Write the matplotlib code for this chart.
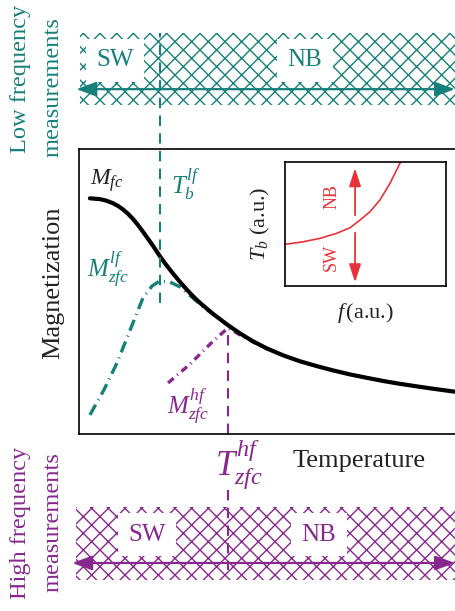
import numpy as np
import matplotlib
matplotlib.use("Agg")
import matplotlib.pyplot as plt
from matplotlib.patches import Rectangle

plt.rcParams['font.family'] = ['Liberation Serif', 'DejaVu Serif']
plt.rcParams['mathtext.fontset'] = 'custom'
plt.rcParams['mathtext.rm'] = 'Liberation Serif'
plt.rcParams['mathtext.it'] = 'Liberation Serif:italic'
plt.rcParams['hatch.linewidth'] = 1.0

TEAL = '#17807b'
PURPLE = '#87288f'
RED = '#e8323a'

# field-cooled magnetization vs temperature (a.u.)
t_fc = [0.29, 0.56, 0.72, 0.90, 1.04, 1.17, 1.30, 1.44, 1.57, 1.70, 1.84,
        1.97, 2.15, 2.31, 2.50, 2.69, 2.87, 3.05, 3.22, 3.56, 3.94, 4.28,
        4.63, 5.00, 5.43, 5.88, 6.33, 6.76, 7.21, 7.66, 8.09, 8.54, 8.99,
        9.41, 10.13]
m_fc = [8.27, 8.24, 8.19, 8.10, 8.00, 7.88, 7.73, 7.54, 7.33, 7.10, 6.84,
        6.60, 6.24, 5.95, 5.63, 5.33, 5.06, 4.81, 4.60, 4.22, 3.84, 3.53,
        3.25, 3.00, 2.76, 2.55, 2.38, 2.23, 2.09, 1.97, 1.86, 1.76, 1.67,
        1.59, 1.46]

# zero-field-cooled, low frequency
t_zfc_lf = [0.29, 0.66, 1.01, 1.36, 1.70, 1.94, 2.15, 2.42, 2.69, 3.03, 3.35, 3.60]
m_zfc_lf = [0.67, 1.54, 2.49, 3.65, 4.77, 5.19, 5.37, 5.33, 5.16, 4.77, 4.40, 4.18]

# zero-field-cooled, high frequency
t_zfc_hf = [2.37, 2.95, 3.56, 3.96, 4.28, 4.63, 5.00]
m_zfc_hf = [1.79, 2.45, 3.25, 3.72, 3.48, 3.23, 2.98]

tb_lf = 2.15
tb_hf = 3.96

# inset: blocking temperature vs frequency
f_inset = [0.0, 0.114, 0.217, 0.321, 0.404, 0.466, 0.528, 0.590, 0.652, 0.719]
tb_inset = [0.336, 0.357, 0.384, 0.425, 0.470, 0.532, 0.599, 0.694, 0.828, 1.003]

fig = plt.figure(figsize=(4.55, 6.11), dpi=100)

# --- main panel ---
ax = fig.add_axes([79/455, 1 - 434/611, 1 - 79/455, 285/611])
ax.set_xlim(0, 10)
ax.set_ylim(0, 10)
ax.set_xticks([])
ax.set_yticks([])
ax.spines['right'].set_visible(False)
for s in ['left', 'top', 'bottom']:
    ax.spines[s].set_linewidth(1.2)

ax.plot(t_zfc_lf, m_zfc_lf, color=TEAL, lw=2.4, dashes=(3.5, 1.6, 0.3, 1.6))
ax.plot(t_zfc_hf, m_zfc_hf, color=PURPLE, lw=2.4, dashes=(2.2, 1.4, 0.3, 1.4))
ax.plot(t_fc, m_fc, color='black', lw=3.0, solid_capstyle='round',
        solid_joinstyle='round')

ax.plot([tb_lf, tb_lf], [4.6, 14.07], color=TEAL, lw=1.5, dashes=(5, 3.5), clip_on=False)
ax.plot([tb_hf, tb_hf], [0, 3.72], color=PURPLE, lw=1.5, dashes=(5, 3.5), clip_on=False)
ax.plot([tb_hf, tb_hf], [-1.96, -4.77], color=PURPLE, lw=1.5, dashes=(5, 3.5), clip_on=False)

ax.text(0.29, 8.9, r'$M_{fc}$', fontsize=17, color='#222222', va='center', ha='left')
ax.text(2.45, 8.75, r'$T_b^{lf}$', fontsize=18, color=TEAL, va='center', ha='left')
ax.text(0.22, 5.75, r'$M_{zfc}^{lf}$', fontsize=18, color=TEAL, va='center', ha='left')
ax.text(2.35, 0.95, r'$M_{zfc}^{hf}$', fontsize=18, color=PURPLE, va='center', ha='left')
ax.text(3.62, -1.05, r'$T_{zfc}^{hf}$', fontsize=25, color=PURPLE, va='center', ha='left',
        clip_on=False)
ax.text(7.45, -0.95, 'Temperature', fontsize=19, color='#222222', ha='center', va='center',
        clip_on=False)
fig.text(53/455, 1 - 283/611, 'Magnetization', fontsize=19, rotation=90,
         ha='center', va='center', color='#222222')

# --- frequency bands ---
def band(rect, color, y_arrow, x0, labels):
    b = fig.add_axes(rect)
    b.set_xlim(0, 10)
    b.set_ylim(0, 1)
    b.axis('off')
    b.add_patch(Rectangle((x0, 0), 10.5 - x0, 1, facecolor='none', edgecolor=color,
                          hatch='xx', lw=0, clip_on=False))
    b.annotate('', xy=(x0 - 0.1, y_arrow), xytext=(10.0, y_arrow),
               arrowprops=dict(arrowstyle='<|-|>,head_length=0.6,head_width=0.22',
                               color=color, lw=1.6, mutation_scale=20,
                               shrinkA=0, shrinkB=0),
               annotation_clip=False)
    for x, txt in labels:
        b.text(x, 0.62, txt, fontsize=18, color=color, ha='center', va='center',
               bbox=dict(boxstyle='square,pad=0.42', facecolor='white', edgecolor='none'))
    return b

band([79/455, 1 - 105/611, 1 - 79/455, 72/611], TEAL, 0.22, 0.03,
     [(0.96, 'SW'), (6.01, 'NB')])
band([79/455, 1 - 580/611, 1 - 79/455, 73/611], PURPLE, 0.233, -0.08,
     [(1.81, 'SW'), (6.38, 'NB')])

# side captions, one text per line
side = dict(fontsize=17.6, rotation=90, ha='center')
fig.text(21/455, 1 - 153/611, 'Low frequency', color=TEAL, va='bottom', **side)
fig.text(53/455, 1 - 157/611, 'measurements', color=TEAL, va='bottom', **side)
fig.text(21/455, 1 - 447/611, 'High frequency', color=PURPLE, va='top', **side)
fig.text(53/455, 1 - 452/611, 'measurements', color=PURPLE, va='top', **side)

# --- inset ---
ins = fig.add_axes([285/455, 1 - 286/611, 161/455, 124/611])
ins.set_xlim(0, 1)
ins.set_ylim(0, 1)
ins.set_xticks([])
ins.set_yticks([])
for s in ins.spines.values():
    s.set_linewidth(1.2)
ins.plot(f_inset, tb_inset, color=RED, lw=1.2)
ins.annotate('', xy=(0.435, 0.95), xytext=(0.435, 0.57),
             arrowprops=dict(arrowstyle='-|>,head_length=0.55,head_width=0.18',
                             color=RED, lw=1.3, mutation_scale=20, shrinkA=0, shrinkB=0))
ins.annotate('', xy=(0.435, 0.03), xytext=(0.435, 0.43),
             arrowprops=dict(arrowstyle='-|>,head_length=0.55,head_width=0.18',
                             color=RED, lw=1.3, mutation_scale=20, shrinkA=0, shrinkB=0))
ins.text(0.29, 0.72, 'NB', rotation=90, fontsize=13, color=RED, ha='center', va='center')
ins.text(0.29, 0.23, 'SW', rotation=90, fontsize=13, color=RED, ha='center', va='center')
ins.set_ylabel(r'$T_b$ (a.u.)', fontsize=16, color='#222222', labelpad=9)
ins.set_xlabel(r'$f\,$(a.u.)', fontsize=16, color='#222222', labelpad=11)

fig.savefig('out.png', dpi=100)
